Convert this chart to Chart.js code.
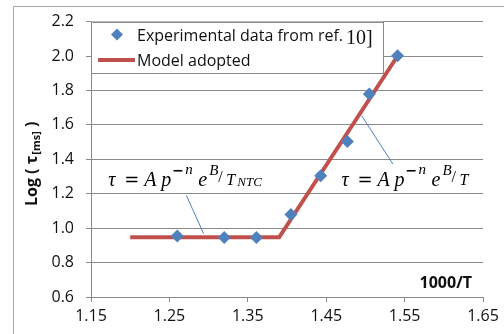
<!DOCTYPE html>
<html><head><meta charset="utf-8">
<script src="https://cdn.jsdelivr.net/npm/chart.js@4/dist/chart.umd.min.js"></script>
<style>html,body{margin:0;padding:0;background:#fff;}canvas{display:block;}</style>
</head><body>
<canvas id="c" width="504" height="334"></canvas>
<script>
// ---- data ----
const expLabel = 'Experimental data from ref.';
const expRef = '10]';
const modelLabel = 'Model adopted';
const expX = [1.26, 1.32, 1.361, 1.405, 1.443, 1.477, 1.505, 1.541];
const expY = [0.955, 0.945, 0.946, 1.08, 1.305, 1.503, 1.779, 2.001];
const modelX = [1.20, 1.39, 1.541];
const modelY = [0.947, 0.947, 2.0];
const xTicks = [1.15, 1.25, 1.35, 1.45, 1.55, 1.65];
const yTicks = [0.6, 0.8, 1.0, 1.2, 1.4, 1.6, 1.8, 2.0, 2.2];
const xTitle = '1000/T';
const yTitleMain = 'Log ( \u03C4';
const yTitleSub = '[ms]';
const yTitleEnd = ' )';
// annotation anchors (data coords) and leader lines
const annLeft = {x: 1.172, y: 1.244};
const annRight = {x: 1.4695, y: 1.244};
const leaderLeft = [[1.2716, 1.19], [1.2937, 0.968]];
const leaderRight = [[1.4953, 1.653], [1.5350, 1.373]];

const BLUE = '#4F81BD', RED = '#C0504D', GRID = '#8a8a8a';
const SERIF = '"Liberation Serif", "DejaVu Serif", serif';

function mathPieces(withNTC) {
  const it = s => 'italic ' + s + 'px ' + SERIF;
  const p = [
    {t: '\u03C4', dx: 0, dy: 0, f: it(20)},
    {t: '=', dx: 16, dy: 0, f: '18px "DejaVu Serif"'},
    {t: 'A', dx: 36, dy: 0, f: it(20)},
    {t: 'p', dx: 53, dy: 0, f: it(20)},
    {t: '\u2212', dx: 64, dy: -11, f: 'bold 14px "DejaVu Sans"'},
    {t: 'n', dx: 77, dy: -12, f: it(15)},
    {t: 'e', dx: 90, dy: 0, f: it(20)},
    {t: 'B', dx: 101, dy: -11, f: it(15)},
    {t: '/', dx: 110, dy: -4, f: '16px ' + SERIF},
    {t: 'T', dx: 118, dy: -1, f: it(16)}
  ];
  if (withNTC) p.push({t: 'NTC', dx: 129, dy: 0, f: it(13)});
  return p;
}

const framePlugin = {
  id: 'frame',
  beforeDraw(chart) {
    const ctx = chart.ctx;
    ctx.save();
    ctx.strokeStyle = '#a9a9a9';
    ctx.lineWidth = 1;
    ctx.beginPath();
    ctx.moveTo(13.5, 334); ctx.lineTo(13.5, 6.5); ctx.lineTo(504, 6.5);
    ctx.stroke();
    ctx.restore();
  },
  afterDraw(chart) {
    const ctx = chart.ctx, a = chart.chartArea;
    const xs = chart.scales.x, ys = chart.scales.y;
    const ds = chart.data.datasets;
    ctx.save();
    // legend box
    const lx = a.left, ly = a.top, lw = 292, lh = 51;
    ctx.fillStyle = '#fff';
    ctx.fillRect(lx, ly, lw, lh);
    ctx.strokeStyle = GRID; ctx.lineWidth = 1;
    ctx.strokeRect(Math.round(lx) + 0.5, Math.round(ly) + 0.5, lw, lh);
    // row 1 marker
    ctx.fillStyle = ds[0].backgroundColor;
    const mx = lx + 26, my = ly + 13, r = 6;
    ctx.beginPath();
    ctx.moveTo(mx, my - r); ctx.lineTo(mx + r, my); ctx.lineTo(mx, my + r); ctx.lineTo(mx - r, my);
    ctx.closePath(); ctx.fill();
    ctx.fillStyle = '#111';
    ctx.textBaseline = 'alphabetic'; ctx.textAlign = 'left';
    ctx.font = '16px "Open Sans"';
    ctx.fillText(ds[0].label, lx + 46, ly + 19);
    const w1 = ctx.measureText(ds[0].label).width;
    ctx.font = '20px "Liberation Serif"';
    ctx.fillText(expRef, lx + 46 + w1 + 3, ly + 22);
    // row 2 line
    ctx.strokeStyle = ds[1].borderColor; ctx.lineWidth = 4;
    ctx.beginPath(); ctx.moveTo(lx + 7, ly + 38.5); ctx.lineTo(lx + 44, ly + 38.5); ctx.stroke();
    ctx.font = '16px "Open Sans"';
    ctx.fillText(ds[1].label, lx + 46, ly + 44);

    // leader lines
    ctx.strokeStyle = BLUE; ctx.lineWidth = 1;
    [leaderLeft, leaderRight].forEach(L => {
      ctx.beginPath();
      ctx.moveTo(xs.getPixelForValue(L[0][0]), ys.getPixelForValue(L[0][1]));
      ctx.lineTo(xs.getPixelForValue(L[1][0]), ys.getPixelForValue(L[1][1]));
      ctx.stroke();
    });
    // math annotations
    ctx.fillStyle = '#000';
    [[annLeft, true], [annRight, false]].forEach(([an, ntc]) => {
      const x0 = xs.getPixelForValue(an.x), y0 = ys.getPixelForValue(an.y);
      mathPieces(ntc).forEach(p => {
        ctx.font = p.f;
        ctx.fillText(p.t, x0 + p.dx, y0 + p.dy);
      });
    });
    // x title inside plot
    ctx.font = 'bold 16px "Open Sans"';
    ctx.textAlign = 'right';
    ctx.fillStyle = '#111';
    ctx.fillText(xTitle, a.right - 11, a.bottom - 9);
    // y title rotated
    ctx.translate(37, (a.top + a.bottom) / 2 + 5);
    ctx.rotate(-Math.PI / 2);
    ctx.textAlign = 'left';
    ctx.font = 'bold 16px "Open Sans"';
    const wm = ctx.measureText(yTitleMain).width;
    ctx.font = 'bold 11px "Open Sans"';
    const ws = ctx.measureText(yTitleSub).width;
    ctx.font = 'bold 16px "Open Sans"';
    const we = ctx.measureText(yTitleEnd).width;
    let sx = -(wm + ws + we) / 2;
    ctx.fillText(yTitleMain, sx, 0); sx += wm + 1;
    ctx.font = 'bold 11px "Open Sans"';
    ctx.fillText(yTitleSub, sx, 3); sx += ws;
    ctx.font = 'bold 16px "Open Sans"';
    ctx.fillText(yTitleEnd, sx, 0);
    ctx.restore();
  }
};

new Chart(document.getElementById('c'), {
  type: 'scatter',
  data: {
    datasets: [
      {
        label: expLabel,
        data: expX.map((x, i) => ({x, y: expY[i]})),
        pointStyle: 'rectRot', pointRadius: 6.5, pointHoverRadius: 6.5,
        backgroundColor: BLUE, borderColor: BLUE, borderWidth: 0,
        showLine: false
      },
      {
        label: modelLabel,
        data: modelX.map((x, i) => ({x, y: modelY[i]})),
        showLine: true, borderColor: RED, backgroundColor: RED,
        borderWidth: 4, pointRadius: 0, pointHoverRadius: 0, tension: 0
      }
    ]
  },
  options: {
    responsive: false, animation: false, devicePixelRatio: 1,
    layout: {padding: {top: 21, right: 21, bottom: 0, left: 0}},
    plugins: {legend: {display: false}, tooltip: {enabled: false}},
    scales: {
      x: {
        type: 'linear', min: 1.15, max: 1.65,
        afterBuildTicks: s => { s.ticks = xTicks.map(v => ({value: v})); },
        afterFit: s => { s.height = 37; },
        grid: {drawOnChartArea: false, drawTicks: true, tickLength: 5, color: GRID},
        border: {color: GRID},
        ticks: {padding: 5, color: '#111', font: {family: 'Open Sans', size: 16},
                callback: v => v.toFixed(2), maxRotation: 0}
      },
      y: {
        type: 'linear', min: 0.6, max: 2.2,
        afterBuildTicks: s => { s.ticks = yTicks.map(v => ({value: v})); },
        afterFit: s => { s.width = 91; },
        grid: {color: GRID, tickLength: 5},
        border: {color: GRID},
        ticks: {padding: 12, color: '#111', font: {family: 'Open Sans', size: 16},
                callback: v => v.toFixed(1)}
      }
    }
  },
  plugins: [framePlugin]
});
</script>
</body></html>
